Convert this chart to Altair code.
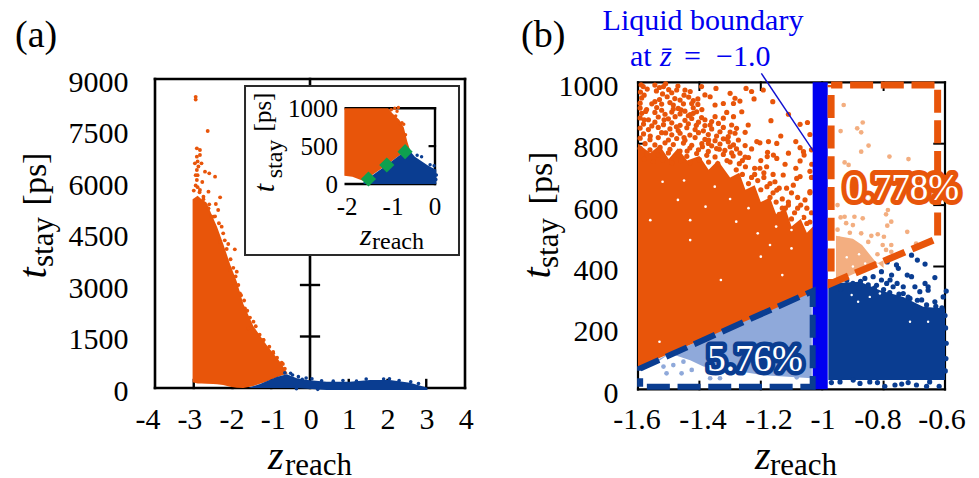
import altair as alt
import pandas as pd

ORANGE = "#e8550a"; BLUE = "#0a3d91"; GREEN = "#0ea04f"; LORANGE = "#f3ae80"; LBLUE = "#8fa9da"; PURE = "#0000f0"
SERIF = "Liberation Serif"

# ---------- panel (a) ----------
a_orange_z = [-3.03,-2.9,-2.8,-2.67,-2.5,-2.4,-2.24,-2.06,-1.89,-1.72,-1.46,-1.12,-0.77,-0.58]
a_orange_top = [5500,5600,5500,5400,4950,4700,4200,3600,3100,2450,1800,1250,760,430]
a_orange_bot = [170,130,130,125,120,110,90,40,10,0,60,190,350,420]
a_blue_z = [-1.6,-1.29,-0.86,-0.6,-0.34,-0.06,0.43,1.03,1.55,2.06,2.58,3.03]
a_blue_top = [0,120,320,400,282,233,184,184,233,233,155,10]
a_blue_bot = [0,0,0,0,0,-20,-60,-60,-60,-60,-60,-60]
a_orange_pts = [(-2.95,8480),(-2.95,8400),(-2.64,7486),(-2.92,6981),(-2.84,6932),(-2.92,6738),(-2.84,6787),(-2.97,6544),(-2.80,6544),
 (-2.92,6350),(-2.71,6301),(-2.45,6156),(-2.92,6059),(-2.60,6253),(-2.84,5767),(-2.62,5719),(-2.75,5573),(-2.32,5554),(-2.43,5360),
 (-2.37,5185),(-2.62,5233),(-2.49,4990),(-2.28,4699),(-2.24,4505),(-2.11,4194),(-1.94,4039),(-2.32,4262),(-2.06,3437),(-1.89,3388),
 (-1.98,3048),(-1.81,2757),(-1.68,2320),(-1.46,1932),(-1.59,1738),(-1.20,1398),(-0.95,1009),(-0.73,738),(-2.9,6200),(-2.78,6000),(-2.55,5000),
 (-2.2,4300),(-2.15,4050),(-2.05,3750),(-1.98,3500),(-1.92,3250),(-1.85,3000),(-1.78,2700),(-1.7,2550),(-1.62,2250),(-1.55,2050),
 (-1.4,1800),(-1.3,1550),(-1.2,1400),(-1.05,1200),(-0.95,1050),(-0.85,880),(-0.7,700),(-0.65,560),(-2.85,5700),(-2.75,5500),(-2.6,5350),
 (-2.45,5000),(-2.35,4800),(-3.0,5750),(-2.95,5900),(-2.9,5850),(-2.95,6200),(-2.88,6450),(-2.9,6600)]
a_blue_pts = [(-0.5,430),(-0.45,380),(-0.3,330),(-0.1,290),(0.05,270),(0.3,210),(0.6,200),(0.85,220),(1.2,200),(1.45,260),(1.9,260),
 (2.05,270),(2.3,220),(2.6,180),(2.8,130),(-0.65,440),(-0.2,250),(-0.35,-20),(0.2,-40)]
a_xtick_pos = [-3,-2,-1,1,2,3]
a_xlabels = ["-4","-3","-2","-1","0","1","2","3","4"]
a_xlabel_pos = [-4.18,-3.10,-2.01,-0.95,0.03,1.01,2.01,3.02,4.03]
a_yvals = [0,1500,3000,4500,6000,7500,9000]

# inset
i_orange_z = [-2.03,-1.85,-1.6,-1.05,-0.95,-0.8,-0.7,-0.62,-0.55]
i_orange_top = [1000,1000,1000,1000,930,850,750,560,430]
i_orange_bot = [110,95,40,265,310,375,415,440,430]
i_blue_z = [-1.6,-1.05,-0.8,-0.62,-0.55,-0.45,-0.3,-0.15,-0.02,0.03]
i_blue_top = [30,265,375,440,430,360,300,240,200,190]
i_orange_pts = [(-0.98,980),(-0.9,1000),(-0.85,960),(-0.82,1010),(-0.88,900),(-0.78,800),(-0.7,790),(-0.74,810),(-0.66,650)]
i_blue_pts = [(-0.30,360),(-0.11,255),(-0.02,240),(-0.4,380),(0.02,60),(0.03,120)]
i_green_z = [-1.49,-1.08,-0.67]
i_green_t = [66,251,427]
i_xlabels = ["-2","-1","0"]
i_xlabel_pos = [-1.97,-0.94,0]
i_yvals = [0,500,1000]

# ---------- panel (b) ----------
b_orange_z = [-1.6,-1.56,-1.53,-1.5,-1.47,-1.44,-1.4,-1.37,-1.34,-1.3,-1.27,-1.25,-1.22,-1.2,-1.17,-1.15,-1.12,-1.1,-1.07,-1.05,-1.03]
b_orange_top = [800,770,795,750,785,745,760,715,745,690,705,650,665,610,625,570,590,530,555,510,530]
b_orange_bot = [72,89,102,115,128,141,158,171,184,201,214,222,235,243,256,265,277,286,299,308,315]
b_orange_pts = [(-1.192,975),(-1.248,980),(-1.230,970),(-1.222,946),(-1.161,937),(-1.167,875),(-1.110,896),(-1.072,863),(-1.048,869),
 (-1.135,825),(-1.086,807),(-1.072,787),(-1.213,807),(-1.203,803),(-1.175,807),(-1.148,801),(-1.251,794),(-1.230,783),(-1.178,772),
 (-1.159,763),(-1.179,758),(-1.148,752),(-1.110,769),(-1.061,774),(-1.072,744),(-1.059,763),(-1.121,733),(-1.086,720),(-1.181,725),
 (-1.203,720),(-1.034,733),(-1.127,698),(-1.083,687),(-1.148,649),(-1.072,693),(-1.040,644),(-1.056,617),(-1.116,655),(-1.094,665),
 (-1.154,676),(-1.241,861),(-1.251,837),(-1.279,850),(-1.295,861),(-1.300,964),(-1.284,948),(-1.268,939),(-1.322,931),(-1.349,926),
 (-1.289,931),(-1.262,904),(-1.311,902),(-1.289,888),(-1.393,885),(-1.346,980),(-1.393,986),(-1.365,953),(-1.382,959),(-1.425,931),
 (-1.420,899),(-1.447,975),(-1.474,975),(-1.517,986),(-1.545,991),(-1.583,986),(-1.485,926),(-1.469,915),(-1.349,888),(-1.322,883),
 (-1.284,834),(-1.306,823),(-1.289,796),(-1.268,769),(-1.300,790),(-1.333,839),(-1.365,861),(-1.371,801),
 (-1.59,992),(-1.57,978),(-1.53,983),(-1.51,995),(-1.50,976),(-1.47,988),
 (-1.592,968),(-1.58,958),(-1.54,972),(-1.52,962),(-1.49,966),(-1.45,958),(-1.43,970),
 (-1.588,949),(-1.53,944),(-1.505,953),(-1.48,947),(-1.463,942),(-1.435,952),(-1.405,946),
 (-1.593,932),(-1.545,937),(-1.523,929),(-1.496,934),(-1.452,930),(-1.42,940),(-1.405,928),
 (-1.593,916),(-1.572,911),(-1.539,918),(-1.523,909),(-1.485,913),(-1.447,906),(-1.42,917),(-1.392,911),
 (-1.588,899),(-1.545,902),(-1.512,896),(-1.49,903),(-1.463,897),(-1.436,891),(-1.409,904),
 (-1.593,884),(-1.566,878),(-1.534,887),(-1.501,881),(-1.479,888),(-1.447,876),(-1.425,882),(-1.382,878),(-1.36,872),
 (-1.582,864),(-1.545,870),(-1.517,862),(-1.49,868),(-1.463,860),(-1.436,865),(-1.403,870),(-1.382,859),(-1.338,866),
 (-1.593,851),(-1.566,846),(-1.534,853),(-1.496,848),(-1.469,843),(-1.441,852),(-1.414,846),(-1.387,842),(-1.36,848),(-1.322,853),
 (-1.582,832),(-1.523,836),(-1.49,829),(-1.463,834),(-1.431,828),(-1.403,836),(-1.371,830),(-1.344,825),(-1.3,838),
 (-1.593,818),(-1.561,813),(-1.534,820),(-1.501,812),(-1.474,817),(-1.447,811),(-1.414,820),(-1.382,814),(-1.349,810),(-1.322,816),(-1.273,812),
 (-1.577,800),(-1.545,796),(-1.512,803),(-1.485,797),(-1.452,802),(-1.425,795),(-1.392,800),(-1.36,793),(-1.333,799),(-1.306,806),
 (-1.593,785),(-1.561,780),(-1.528,788),(-1.496,782),(-1.463,776),(-1.431,786),(-1.403,780),(-1.371,775),(-1.344,784),(-1.317,778),(-1.279,783),
 (-1.572,768),(-1.534,763),(-1.501,770),(-1.469,764),(-1.441,759),(-1.409,768),(-1.376,762),(-1.349,757),(-1.322,765),(-1.29,760),(-1.251,756),
 (-1.26,700),(-1.23,690),(-1.21,680),(-1.18,660),(-1.24,670),(-1.2,650),(-1.16,640),(-1.13,620),(-1.1,640),(-1.08,625),(-1.05,590),
 (-1.035,575),(-1.15,610),(-1.12,590),(-1.09,575),(-1.06,560),(-1.04,545),(-1.14,570),(-1.1,555),(-1.17,625),(-1.07,600),(-1.04,640),
 (-1.035,690),(-1.04,710),(-1.035,780),(-1.04,830),(-1.22,720),(-1.27,735),(-1.3,740),(-1.16,700),(-1.19,690),(-1.11,610),(-1.26,745),
 (-1.58,750),(-1.55,742),(-1.52,748),(-1.49,738),(-1.46,745),(-1.43,738),(-1.40,748),(-1.37,740),(-1.34,735),(-1.31,745),(-1.28,715),
 (-1.25,725),(-1.22,700),(-1.19,705),(-1.17,670),(-1.14,655),(-1.11,600),(-1.08,590),(-1.05,540),(-1.13,590),
 (-1.575,905),(-1.555,858),(-1.515,878),(-1.475,855),(-1.45,820),(-1.41,860),(-1.37,812),(-1.335,782),(-1.56,825),(-1.51,835),(-1.44,776),
 (-1.39,790),(-1.58,878),(-1.555,930),(-1.46,910),(-1.43,895),(-1.31,815),(-1.295,770),(-1.24,755),(-1.2,745)]
b_orange_gaps = [(-1.43,551),(-1.43,486),(-1.28,546),(-1.20,432),(-1.13,372),(-1.53,155),(-1.33,356),(-1.10,459),(-1.21,508),(-1.15,530),
 (-1.56,551),(-1.52,676),(-1.47,617),(-1.38,595),(-1.10,519),(-1.24,590),(-1.30,620),(-1.17,470),(-1.07,560),(-1.45,680),(-1.35,660)]
b_blue_z = [-0.98,-0.877,-0.812,-0.736,-0.671,-0.6]
b_blue_top = [345,350,323,301,269,263]
b_blue_bot = [30,30,30,30,30,30]
b_blue_pts = [(-0.709,437),(-0.690,421),(-0.665,408),(-0.633,364),(-0.788,415),(-0.758,405),(-0.752,394),(-0.774,372),(-0.723,372),
 (-0.709,367),(-0.756,345),(-0.665,345),(-0.655,334),(-0.698,334),(-0.682,318),(-0.655,323),(-0.606,301),(-0.676,291),(-0.633,285),
 (-0.736,334),(-0.807,356),(-0.834,367),(-0.861,361),(-0.807,383),(-0.779,356),(-0.714,296),(-0.698,269),(-0.736,312),(-0.769,334),
 (-0.790,345),(-0.823,339),(-0.6,240),(-0.598,200),(-0.596,150),(-0.597,100),(-0.599,60),(-0.596,320),
 (-0.877,19),(-0.796,10),(-0.763,14),(-0.741,17),(-0.693,14),(-0.660,10),(-0.619,10),(-0.942,24),(-0.899,30),(-0.845,24),
 (-0.97,350),(-0.95,340),(-0.92,355),(-0.9,345),(-0.875,352),(-0.85,340),(-0.83,330),(-0.8,325),(-0.78,315),(-0.75,310),(-0.72,300),
 (-0.69,290),(-0.66,275),(-0.63,270),(-0.61,265),(-0.94,325),(-0.88,330),(-0.97,22),(-0.72,22),(-0.65,24),(-0.82,22)]
b_blue_gaps = [(-0.845,301),(-0.883,285),(-0.812,312),(-0.655,220),(-0.904,307),(-0.714,220)]
b_lorange_z = [-0.955,-0.9,-0.87,-0.83,-0.80]
b_lorange_top = [500,490,470,420,395]
b_lorange_bot = [350,375,388,406,420]
b_lorange_pts = [(-0.930,926),(-0.868,869),(-0.886,850),(-0.873,837),(-0.849,794),(-0.873,774),(-0.781,758),(-0.719,750),(-0.940,841),
 (-0.927,739),(-0.914,731),(-0.786,584),(-0.792,570),(-0.868,557),(-0.895,562),(-0.927,562),(-0.775,546),(-0.788,533),(-0.723,513),
 (-0.873,508),(-0.819,505),(-0.799,497),(-0.775,470),(-0.803,470),(-0.792,454),(-0.775,448),(-0.694,475),(-0.922,541),(-0.900,535),
 (-0.95,600),(-0.94,560),(-0.95,520),(-0.85,480),(-0.82,440),(-0.84,500),(-0.91,510),(-0.945,490)]
b_lorange_gaps = [(-0.92,430),(-0.88,440),(-0.90,400),(-0.86,410)]
b_lblue_z = [-1.55,-1.496,-1.43,-1.387,-1.30,-1.19,-1.034]
b_lblue_top = [90,117,145,165,205,255,320]
b_lblue_bot = [80,117,95,74,63,46,36]
b_lblue_pts = [(-1.517,74),(-1.485,79),(-1.425,63),(-1.452,90),(-1.507,52),(-1.458,52),(-1.365,36),(-1.333,36),(-1.083,39)]
b_xlabels = ["-1.6","-1.4","-1.2","-1","-0.8","-0.6"]
b_xlabel_pos = [-1.603,-1.388,-1.173,-0.997,-0.818,-0.61]
b_xticks = [-1.4,-1.2,-1,-0.8]
b_yvals = [0,200,400,600,800,1000]
b_orange_path_z = [-0.971,-0.624,-0.624,-0.971,-0.971]
b_orange_path_t = [991,991,492,345,991]
b_blue_path_z = [-1.593,-1.031,-1.031,-1.593,-1.593]
b_blue_path_t = [8.5,8.5,320,68,8.5]

# pixel frames of the three plots on the page (less the 8px margin)
def scale(d, r):
    return alt.Scale(domain=d, range=r, nice=False, zero=False)
XA = scale([-4,4],[147,457]);      YA = scale([0,9000],[380,71])
XI = scale([-2,0],[337.7,427]);    YI = scale([0,1000],[176,100.3])
XB = scale([-1.6,-0.6],[630,937]); YB = scale([0,1000],[381.3,74.3])

def X(s, f="x"): return alt.X(f"{f}:Q", scale=s, axis=None, title=None)
def Y(s, f="y"): return alt.Y(f"{f}:Q", scale=s, axis=None, title=None)

def area(zs, top, bot, color, sx, sy):
    d = pd.DataFrame({"x": zs, "y": top, "y2": bot})
    return alt.Chart(d).mark_area(color=color, opacity=1, interpolate="linear").encode(X(sx), Y(sy), y2=alt.Y2("y2:Q"))

def pts(pairs, color, size, sx, sy):
    d = pd.DataFrame(pairs, columns=["x", "y"])
    return alt.Chart(d).mark_circle(color=color, size=size, opacity=1).encode(X(sx), Y(sy))

def seg(rows, sx, sy, width=2.5, color="#000000"):
    d = pd.DataFrame(rows, columns=["x", "y", "x2", "y2"])
    return alt.Chart(d).mark_rule(color=color, strokeWidth=width, strokeCap="square").encode(
        X(sx), Y(sy), x2=alt.X2("x2:Q"), y2=alt.Y2("y2:Q"))

def path(zs, ts, color, width, offset, sx, sy):
    d = pd.DataFrame({"x": zs, "y": ts, "i": range(len(zs))})
    return alt.Chart(d).mark_line(color=color, strokeWidth=width, strokeDash=[23, 7.7], strokeDashOffset=offset,
                                  strokeCap="butt", strokeJoin="miter").encode(X(sx), Y(sy), order="i:Q")

def T(text, x, y, size=30, color="#000000", style="normal", angle=0, align="left", **kw):
    return alt.Chart(pd.DataFrame({"t": [text]})).mark_text(
        font=SERIF, fontSize=size, color=color, fontStyle=style, angle=angle, align=align, baseline="alphabetic", **kw
    ).encode(x=alt.value(x - 8), y=alt.value(y - 8), text="t:N")

def xlab(labels, pos, s, y, size=30):
    d = pd.DataFrame({"x": pos, "t": labels})
    return alt.Chart(d).mark_text(font=SERIF, fontSize=size, color="#000000", align="center", baseline="alphabetic").encode(
        X(s), y=alt.value(y - 8), text="t:N")

def ylab(vals, s, x, dy, size=30):
    d = pd.DataFrame({"y": vals, "t": [str(v) for v in vals]})
    return alt.Chart(d).mark_text(font=SERIF, fontSize=size, color="#000000", align="right", baseline="alphabetic", dy=dy).encode(
        x=alt.value(x - 8), y=Y(s), text="t:N")

layers = []
# ----- panel a -----
layers += [
    seg([(-4,0,4,0),(-4,9000,4,9000),(-4,0,-4,9000),(4,0,4,9000),(0,0,0,9000)], XA, YA, 2.6),
    seg([(-0.23,v,0.23,v) for v in a_yvals[1:-1]], XA, YA, 2.4),
    seg([(v,0,v,233) for v in a_xtick_pos], XA, YA, 2.4),
    area(a_orange_z, a_orange_top, a_orange_bot, ORANGE, XA, YA),
    pts(a_orange_pts, ORANGE, 15, XA, YA),
    area(a_blue_z, a_blue_top, a_blue_bot, BLUE, XA, YA),
    pts(a_blue_pts, BLUE, 13, XA, YA),
]
box = pd.DataFrame({"x": [-1.677], "x2": [3.845], "y": [8797], "y2": [3874]})
layers.append(alt.Chart(box).mark_rect(fill="#ffffff", stroke="#2a2a2a", strokeWidth=2).encode(
    X(XA), Y(YA), x2=alt.X2("x2:Q"), y2=alt.Y2("y2:Q")))
layers += [
    seg([(-2,0,0,0),(-2,1000,0,1000),(0,0,0,1000)], XI, YI, 2.4),
    seg([(-0.12,500,0,500)], XI, YI, 2.2),
    area(i_orange_z, i_orange_top, i_orange_bot, ORANGE, XI, YI),
    pts(i_orange_pts, ORANGE, 12, XI, YI),
    area(i_blue_z, i_blue_top, [0]*len(i_blue_z), BLUE, XI, YI),
    pts(i_blue_pts, BLUE, 12, XI, YI),
    alt.Chart(pd.DataFrame({"x": i_green_z, "y": i_green_t})).mark_point(
        shape="diamond", filled=True, color=GREEN, size=230, opacity=1).encode(X(XI), Y(YI)),
    xlab(i_xlabels, i_xlabel_pos, XI, 215, 25),
    ylab(i_yvals, YI, 338, 8.5, 25),
    T("z", 360, 245, 30, style="italic"), T("reach", 372, 249, 24),
    T("t", 274, 188, 30, style="italic", angle=270, align="center"),
    T("stay", 282, 159, 24, angle=270, align="center"),
    T("[ps]", 271, 112, 25, angle=270, align="center"),
]
layers += [
    xlab(a_xlabels, a_xlabel_pos, XA, 428.5),
    ylab(a_yvals, YA, 128.5, 12.8),
    T("(a)", 15, 47, 38),
    T("z", 268, 469, 40, style="italic"), T("reach", 285, 475, 31),
    T("t", 46, 273, 40, style="italic", angle=270, align="center"),
    T("stay", 53, 242, 31, angle=270, align="center"),
    T("[ps]", 46, 179, 34, angle=270, align="center"),
]
# ----- panel b -----
layers += [
    seg([(-1.6,0,-0.6,0),(-1.6,1000,-0.6,1000),(-1.6,0,-1.6,1000),(-0.6,0,-0.6,1000)], XB, YB, 2.2),
    seg([(v,0,v,25) for v in b_xticks] + [(v,1000,v,975) for v in b_xticks], XB, YB, 2),
    seg([(-1.6,v,-1.575,v) for v in b_yvals[1:-1]] + [(-0.6,v,-0.635,v) for v in b_yvals[1:-1]], XB, YB, 2),
    area(b_lblue_z, b_lblue_top, b_lblue_bot, LBLUE, XB, YB),
    pts(b_lblue_pts, LBLUE, 22, XB, YB),
    area(b_orange_z, b_orange_top, b_orange_bot, ORANGE, XB, YB),
    pts(b_orange_pts, ORANGE, 27, XB, YB),
    pts(b_orange_gaps, "#ffffff", 7, XB, YB),
    area(b_blue_z, b_blue_top, b_blue_bot, BLUE, XB, YB),
    pts(b_blue_pts, BLUE, 27, XB, YB),
    pts(b_blue_gaps, "#ffffff", 6, XB, YB),
    area(b_lorange_z, b_lorange_top, b_lorange_bot, LORANGE, XB, YB),
    pts(b_lorange_pts, LORANGE, 22, XB, YB),
    pts(b_lorange_gaps, "#ffffff", 6, XB, YB),
    seg([(-1.197,1027,-1.031,779)], XB, YB, 1.4, "#1010d0"),
]
bar = pd.DataFrame({"x": [-1.031], "x2": [-0.982], "y": [0], "y2": [1000]})
layers.append(alt.Chart(bar).mark_rect(color=PURE, opacity=1).encode(X(XB), Y(YB), x2=alt.X2("x2:Q"), y2=alt.Y2("y2:Q")))
layers += [
    path(b_orange_path_z, b_orange_path_t, ORANGE, 7, 11.7, XB, YB),
    path(b_blue_path_z, b_blue_path_t, BLUE, 6, 24, XB, YB),
    T("0.778%", 902, 200, 37, color=ORANGE, align="center", stroke=ORANGE, strokeWidth=10, strokeJoin="round"),
    T("0.778%", 902, 200, 37, color="#ffffff", align="center"),
    T("5.76%", 755, 370.7, 37, color=BLUE, align="center", stroke=BLUE, strokeWidth=9, strokeJoin="round"),
    T("5.76%", 755, 370.7, 37, color="#ffffff", align="center"),
    T("Liquid boundary", 703, 30, 30, color=PURE, align="center"),
    T("at", 630, 66, 30, color=PURE),
    T("z\u0304", 660, 66, 30, color=PURE, style="italic"),
    T("=", 684, 66, 30, color=PURE),
    T("\u22121.0", 716, 66, 30, color=PURE),
    xlab(b_xlabels, b_xlabel_pos, XB, 428.5),
    ylab(b_yvals, YB, 618.5, 13.5),
    T("(b)", 521, 47, 38),
    T("z", 755, 469, 40, style="italic"), T("reach", 770, 475, 31),
    T("t", 550, 273, 40, style="italic", angle=270, align="center"),
    T("stay", 558, 243, 31, angle=270, align="center"),
    T("[ps]", 552, 178, 34, angle=270, align="center"),
]

chart = alt.layer(*layers).resolve_scale(x="independent", y="independent").properties(
    width=963, height=470, padding=0, autosize=alt.AutoSizeParams(type="none")
).configure_view(stroke=None)

chart.save("out.html", embed_options={"renderer": "svg", "actions": False})
